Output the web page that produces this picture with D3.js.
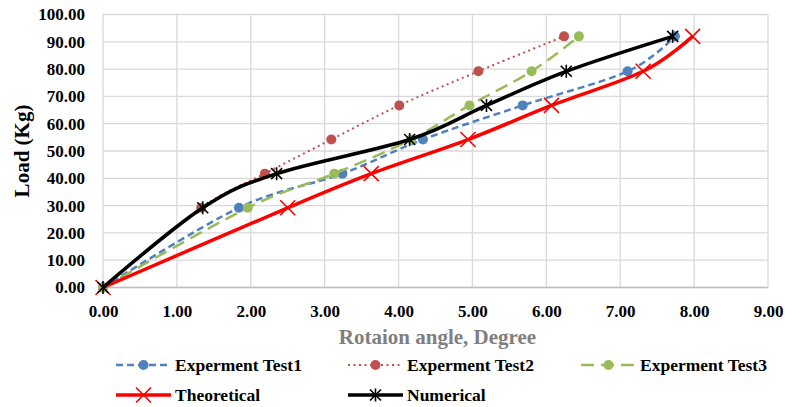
<!DOCTYPE html>
<html>
<head>
<meta charset="utf-8">
<script src="https://cdn.jsdelivr.net/npm/d3@7"></script>
<style>
  body { margin: 0; background: #fff; }
  svg text { font-family: "Liberation Serif", "Times New Roman", Times, serif; font-weight: bold; }
</style>
</head>
<body>
<svg width="785" height="407"></svg>
<script>
// load steps (Kg)
var loads = [0, 29.2, 41.7, 54.2, 66.7, 79.2, 92.0];

// rotation angle (degree) per series
var test1 = [0, 1.84, 3.24, 4.33, 5.68, 7.10, 7.74];
var test2 = [0, 1.33, 2.19, 3.09, 4.01, 5.08, 6.24];
var test3 = [0, 1.96, 3.13, 4.17, 4.96, 5.80, 6.44];
var theoretical = [0, 2.50, 3.63, 4.94, 6.07, 7.31, 7.98];
var numerical = [0, 1.35, 2.35, 4.15, 5.19, 6.27, 7.71];

var xTicks = [0, 1, 2, 3, 4, 5, 6, 7, 8, 9];
var yTicks = [0, 10, 20, 30, 40, 50, 60, 70, 80, 90, 100];

var series = [
  {name: "Experment Test1", x: test1, color: "#4f81bd", width: 2.5, dash: "7,4", marker: "circle"},
  {name: "Experment Test2", x: test2, color: "#c0504d", width: 2, dash: "2,3.5", marker: "circle"},
  {name: "Experment Test3", x: test3, color: "#9bbb59", width: 2.5, dash: "13,7", marker: "circle"},
  {name: "Theoretical", x: theoretical, color: "#ff0000", width: 3.5, dash: null, marker: "x"},
  {name: "Numerical", x: numerical, color: "#000000", width: 3.5, dash: null, marker: "star"}
];

var svg = d3.select("svg");
var margin = {left: 103, right: 17, top: 14.5, bottom: 119.5};
var W = 785, H = 407;
var FONT = "Liberation Serif";

var x = d3.scaleLinear().domain([0, 9]).range([margin.left, W - margin.right]);
var y = d3.scaleLinear().domain([0, 100]).range([H - margin.bottom, margin.top]);

// gridlines
svg.append("g").selectAll("line").data(yTicks).enter().append("line")
  .attr("x1", x(0)).attr("x2", x(9))
  .attr("y1", function(d){ return y(d); }).attr("y2", function(d){ return y(d); })
  .attr("stroke", "#d9d9d9").attr("stroke-width", 1.3);
svg.append("g").selectAll("line").data(xTicks).enter().append("line")
  .attr("y1", y(0)).attr("y2", y(100))
  .attr("x1", function(d){ return x(d); }).attr("x2", function(d){ return x(d); })
  .attr("stroke", "#d9d9d9").attr("stroke-width", 1.3);
svg.append("line").attr("x1", x(0)).attr("x2", x(9)).attr("y1", y(0)).attr("y2", y(0))
  .attr("stroke", "#bfbfbf").attr("stroke-width", 1.3);

// axes labels
svg.append("g").attr("transform", "translate(" + (x(0) - 15) + ",0)")
  .call(d3.axisLeft(y).tickValues(yTicks).tickSize(0).tickFormat(d3.format(".2f")))
  .attr("font-family", FONT).attr("font-size", 17)
  .call(function(g){ g.select(".domain").remove(); })
  .selectAll("text").attr("fill", "#000");

svg.append("g").attr("transform", "translate(0," + (y(0) + 14) + ")")
  .call(d3.axisBottom(x).tickValues(xTicks).tickSize(0).tickFormat(d3.format(".2f")))
  .attr("font-family", FONT).attr("font-size", 17)
  .call(function(g){ g.select(".domain").remove(); })
  .selectAll("text").attr("fill", "#000");

svg.append("text").attr("transform", "translate(29," + ((y(0) + y(100)) / 2) + ") rotate(-90)")
  .attr("text-anchor", "middle").attr("font-family", FONT).attr("font-size", 21).text("Load (Kg)");
svg.append("text").attr("x", (x(0) + x(9)) / 2 + 2).attr("y", 344)
  .attr("text-anchor", "middle").attr("font-family", FONT).attr("font-size", 21).attr("fill", "#7f7f7f")
  .text("Rotaion angle, Degree");

function drawMarker(g, type, color, px, py) {
  if (type === "circle") {
    g.append("circle").attr("cx", px).attr("cy", py).attr("r", 5).attr("fill", color);
  } else {
    var s = type === "star" ? 5.5 : 7.5;
    var p = "M" + (px - s) + "," + (py - s) + "L" + (px + s) + "," + (py + s) +
            "M" + (px - s) + "," + (py + s) + "L" + (px + s) + "," + (py - s);
    if (type === "star") p += "M" + px + "," + (py - s - 1) + "L" + px + "," + (py + s + 1);
    g.append("path").attr("d", p).attr("stroke", color).attr("stroke-width", 1.6).attr("fill", "none");
  }
}

var line = d3.line().curve(d3.curveCardinal.tension(0));

series.forEach(function(s) {
  var g = svg.append("g");
  var pts = s.x.map(function(v, i){ return [x(v), y(loads[i])]; });
  g.append("path").attr("d", line(pts)).attr("fill", "none")
    .attr("stroke", s.color).attr("stroke-width", s.width)
    .attr("stroke-dasharray", s.dash);
  pts.forEach(function(p){ drawMarker(g, s.marker, s.color, p[0], p[1]); });
});

// legend
var legendPos = [[116, 365], [348, 365], [581, 365], [116, 395], [348, 395]];
series.forEach(function(s, i) {
  var g = svg.append("g").attr("transform", "translate(" + legendPos[i][0] + "," + legendPos[i][1] + ")");
  g.append("line").attr("x1", 0).attr("x2", 55).attr("y1", 0).attr("y2", 0)
    .attr("stroke", s.color).attr("stroke-width", s.width).attr("stroke-dasharray", s.dash);
  drawMarker(g, s.marker, s.color, 27.5, 0);
  g.append("text").attr("x", 59).attr("y", 6).attr("font-family", FONT).attr("font-size", 17.5).text(s.name);
});
</script>
</body>
</html>
